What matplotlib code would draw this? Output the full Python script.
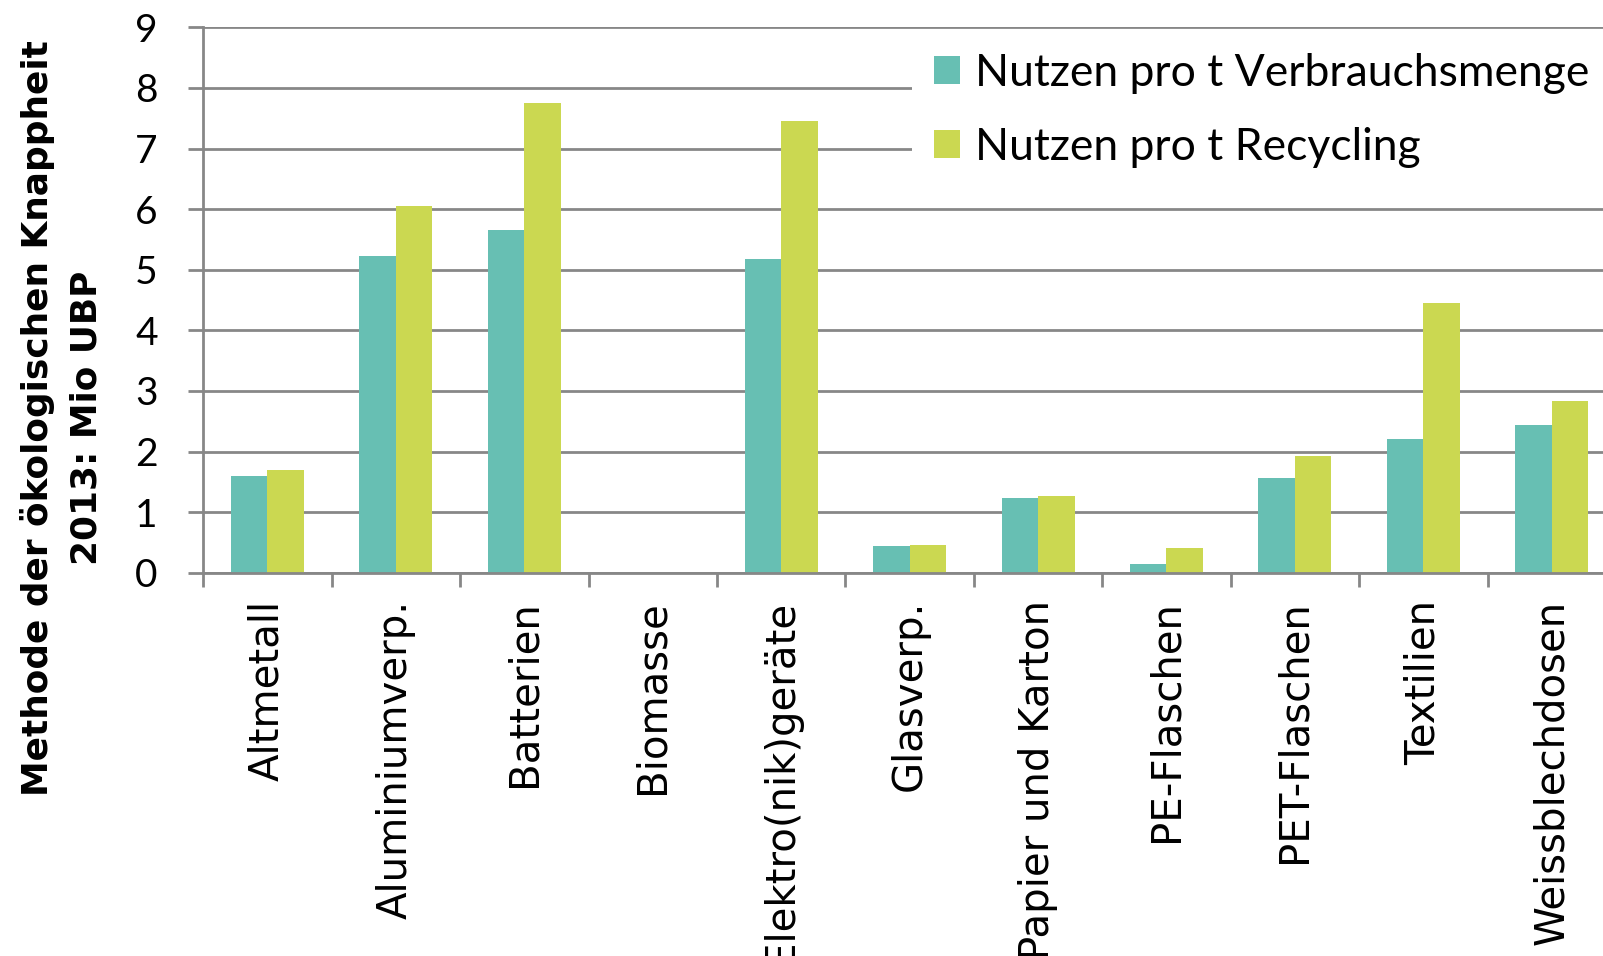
import matplotlib
matplotlib.use("Agg")
from matplotlib import pyplot as plt
import numpy as np

categories = ["Altmetall", "Aluminiumverp.", "Batterien", "Biomasse",
              "Elektro(nik)geräte", "Glasverp.", "Papier und Karton",
              "PE-Flaschen", "PET-Flaschen", "Textilien", "Weissblechdosen"]
nutzen_verbrauch = [1.60, 5.22, 5.65, 0.0, 5.17, 0.44, 1.23, 0.15, 1.57, 2.21, 2.44]
nutzen_recycling = [1.69, 6.05, 7.75, 0.0, 7.45, 0.46, 1.26, 0.40, 1.92, 4.45, 2.84]
yticks = list(range(0, 10))

teal = "#67bfb3"
lime = "#cbd851"
grey = "#878787"

fig = plt.figure(figsize=(16.03, 9.56), dpi=100)
ax = fig.add_axes([0.1268, 0.4009, 0.8813, 0.5705])

x = np.arange(len(categories))
w = 0.284
ax.bar(x - w / 2, nutzen_verbrauch, w, color=teal, label="Nutzen pro t Verbrauchsmenge", zorder=3)
ax.bar(x + w / 2, nutzen_recycling, w, color=lime, label="Nutzen pro t Recycling", zorder=3)

ax.set_xlim(-0.5, len(categories) - 0.5)
ax.set_ylim(0, 9)
ax.set_yticks(yticks)
ax.set_yticklabels([str(v) for v in yticks], family="Lato", fontsize=28)
ax.yaxis.grid(True, color=grey, linewidth=2.0, zorder=0)
ax.set_axisbelow(True)

# ticks between categories, labels at the centres
ax.set_xticks(np.arange(-0.5, len(categories), 1.0))
ax.set_xticklabels([])
ax.set_xticks(x, minor=True)
ax.set_xticklabels(categories, minor=True, rotation=90, fontsize=29,
                   family="DejaVu Sans", va="top", ha="center")
ax.tick_params(axis="x", which="major", length=10, width=2.0, color=grey, direction="out")
ax.tick_params(axis="x", which="minor", length=0, pad=19.5)
ax.tick_params(axis="y", length=10.8, width=2.0, color=grey, pad=22)

for s in ["top", "right"]:
    ax.spines[s].set_visible(False)
for s in ["left", "bottom"]:
    ax.spines[s].set_color(grey)
    ax.spines[s].set_linewidth(2.0)
    ax.spines[s].set_zorder(4)

fig.text(0.0387, 0.5628, "Methode der ökologischen Knappheit\n2013: Mio UBP",
         rotation=90, ha="center", va="center", multialignment="center",
         fontsize=25.8, fontweight="bold", family="DejaVu Sans", linespacing=1.54)

leg = fig.legend(loc="upper left",
                 bbox_to_anchor=(912 / 1603, 0, 691 / 1603, 1 - 30.3 / 956),
                 mode="expand", borderaxespad=0,
                 prop={"family": "Lato", "size": 32}, frameon=True,
                 facecolor="white", edgecolor="none", framealpha=1,
                 fancybox=False, borderpad=0.5, handlelength=0.585,
                 handleheight=0.585, handletextpad=0.34, labelspacing=0.75)

fig.savefig("out.png", dpi=100, facecolor="white")
